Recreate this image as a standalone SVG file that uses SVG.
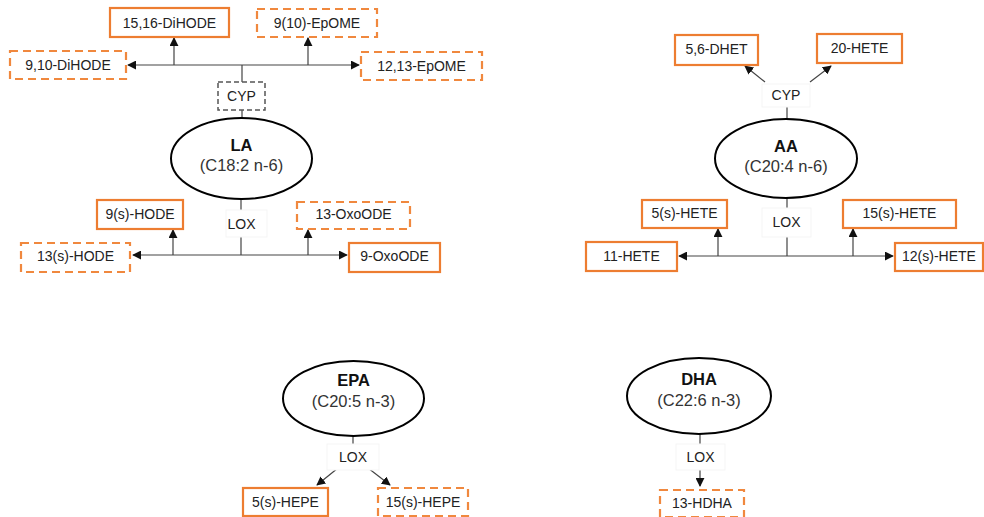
<svg xmlns="http://www.w3.org/2000/svg" width="984" height="517" viewBox="0 0 984 517">
<defs>
<marker id="ah" viewBox="0 0 10 10" refX="9" refY="5" markerWidth="9" markerHeight="9" markerUnits="userSpaceOnUse" orient="auto">
<path d="M0,0 L10,5 L0,10 z" fill="#111"/>
</marker>
<style>
text{font-family:"Liberation Sans",Arial,sans-serif;fill:#222;text-anchor:middle;dominant-baseline:central}
.m{font-size:14px}
.t{font-size:16.5px;font-weight:bold;fill:#111}
.s{font-size:16.5px;fill:#333}
.bs{fill:#fff;stroke:#ED7D31;stroke-width:2.2}
.bd{fill:#fff;stroke:#F0883E;stroke-width:2.2;stroke-dasharray:8 5}
.cy{fill:#fff;stroke:#555;stroke-width:1.5;stroke-dasharray:5 3}
.en{fill:#fff;stroke:#f5f5f5;stroke-width:1}
.el{fill:#fff;stroke:#000;stroke-width:2}
.ln{fill:none;stroke:#444;stroke-width:1.2}
.ar{fill:none;stroke:#444;stroke-width:1.2;marker-end:url(#ah)}
</style>
</defs>
<rect width="984" height="517" fill="#fff"/>

<g id="connectors">
<line class="ln" x1="242" y1="110" x2="242" y2="119"/>
<line class="ln" x1="242" y1="82" x2="242" y2="65"/>
<line class="ar" x1="242" y1="65" x2="128" y2="65"/>
<line class="ar" x1="242" y1="65" x2="359" y2="65"/>
<line class="ar" x1="174" y1="65" x2="174" y2="38"/>
<line class="ar" x1="308" y1="65" x2="308" y2="38"/>
<line class="ln" x1="241" y1="199" x2="241" y2="210"/>
<line class="ln" x1="241" y1="237" x2="241" y2="255"/>
<line class="ar" x1="241" y1="255" x2="133" y2="255"/>
<line class="ar" x1="241" y1="255" x2="347" y2="255"/>
<line class="ar" x1="173" y1="255" x2="173" y2="230"/>
<line class="ar" x1="308" y1="255" x2="308" y2="230"/>
<line class="ln" x1="787" y1="107" x2="787" y2="119"/>
<line class="ar" x1="765" y1="82" x2="745" y2="66"/>
<line class="ar" x1="810" y1="82" x2="831" y2="66"/>
<line class="ln" x1="787" y1="198" x2="787" y2="208"/>
<line class="ln" x1="787" y1="237" x2="787" y2="256"/>
<line class="ar" x1="787" y1="256" x2="679" y2="256"/>
<line class="ar" x1="787" y1="256" x2="893" y2="256"/>
<line class="ar" x1="718" y1="256" x2="718" y2="229"/>
<line class="ar" x1="853" y1="256" x2="853" y2="229"/>
<line class="ln" x1="353" y1="436" x2="353" y2="444"/>
<line class="ar" x1="338" y1="468" x2="317" y2="485"/>
<line class="ar" x1="368" y1="468" x2="390" y2="485"/>
<line class="ln" x1="700" y1="434" x2="700" y2="444"/>
<line class="ar" x1="700" y1="470" x2="700" y2="486"/>
</g>

<g id="n-1516-dihode"><rect class="bs" x="110" y="8" width="119" height="29"/><text class="m" x="169.5" y="23">15,16-DiHODE</text></g>
<g id="n-910-epome"><rect class="bd" x="257" y="9" width="120" height="28"/><text class="m" x="317" y="23">9(10)-EpOME</text></g>
<g id="n-910-dihode"><rect class="bd" x="10" y="51" width="116" height="28"/><text class="m" x="68" y="65">9,10-DiHODE</text></g>
<g id="n-1213-epome"><rect class="bd" x="361" y="52" width="121" height="28"/><text class="m" x="421.5" y="66">12,13-EpOME</text></g>
<g id="la-cyp"><rect class="cy" x="218" y="82" width="47" height="28"/><text class="m" x="241.5" y="96">CYP</text></g>
<g id="la"><ellipse class="el" cx="241.5" cy="158.5" rx="70.5" ry="40.5"/><text class="t" x="241.5" y="145">LA</text><text class="s" x="241.5" y="165">(C18:2 n-6)</text></g>
<g id="la-lox"><rect class="en" x="226" y="210" width="41" height="27"/><text class="m" x="241.5" y="224">LOX</text></g>
<g id="n-9s-hode"><rect class="bs" x="97" y="200" width="86" height="29"/><text class="m" x="140" y="214">9(s)-HODE</text></g>
<g id="n-13-oxoode"><rect class="bd" x="297" y="202" width="113" height="27"/><text class="m" x="353.5" y="214">13-OxoODE</text></g>
<g id="n-13s-hode"><rect class="bd" x="21" y="243" width="109" height="29"/><text class="m" x="75.5" y="256">13(s)-HODE</text></g>
<g id="n-9-oxoode"><rect class="bs" x="349" y="243" width="91" height="29"/><text class="m" x="394.5" y="256">9-OxoODE</text></g>

<g id="n-56-dhet"><rect class="bs" x="675" y="35" width="83" height="30"/><text class="m" x="716.5" y="49">5,6-DHET</text></g>
<g id="n-20-hete"><rect class="bs" x="817" y="34" width="85" height="29"/><text class="m" x="859.5" y="48">20-HETE</text></g>
<g id="aa-cyp"><rect class="en" x="762" y="84" width="48" height="23"/><text class="m" x="786" y="95">CYP</text></g>
<g id="aa"><ellipse class="el" cx="786" cy="158.5" rx="71" ry="39.5"/><text class="t" x="786" y="146">AA</text><text class="s" x="786" y="166">(C20:4 n-6)</text></g>
<g id="aa-lox"><rect class="en" x="762" y="208" width="49" height="29"/><text class="m" x="786.5" y="222">LOX</text></g>
<g id="n-5s-hete"><rect class="bs" x="642" y="200" width="85" height="28"/><text class="m" x="684.5" y="213">5(s)-HETE</text></g>
<g id="n-15s-hete"><rect class="bs" x="843" y="200" width="113" height="28"/><text class="m" x="899.5" y="213">15(s)-HETE</text></g>
<g id="n-11-hete"><rect class="bs" x="586" y="242" width="91" height="29"/><text class="m" x="631.5" y="256">11-HETE</text></g>
<g id="n-12s-hete"><rect class="bs" x="895" y="243" width="88" height="28"/><text class="m" x="939" y="256">12(s)-HETE</text></g>

<g id="epa"><ellipse class="el" cx="353.5" cy="398.5" rx="70.5" ry="37.5"/><text class="t" x="353.5" y="380">EPA</text><text class="s" x="353.5" y="401">(C20:5 n-3)</text></g>
<g id="epa-lox"><rect class="en" x="327" y="444" width="52" height="26"/><text class="m" x="353" y="457">LOX</text></g>
<g id="n-5s-hepe"><rect class="bs" x="243" y="488" width="85" height="28"/><text class="m" x="285.5" y="502">5(s)-HEPE</text></g>
<g id="n-15s-hepe"><rect class="bd" x="378" y="488" width="90" height="28"/><text class="m" x="423" y="502">15(s)-HEPE</text></g>

<g id="dha"><ellipse class="el" cx="699" cy="396" rx="72" ry="38"/><text class="t" x="699" y="379">DHA</text><text class="s" x="699" y="400">(C22:6 n-3)</text></g>
<g id="dha-lox"><rect class="en" x="676" y="444" width="49" height="26"/><text class="m" x="700.5" y="457">LOX</text></g>
<g id="n-13-hdha"><rect class="bd" x="660" y="490" width="84" height="27"/><text class="m" x="702" y="503">13-HDHA</text></g>
</svg>
